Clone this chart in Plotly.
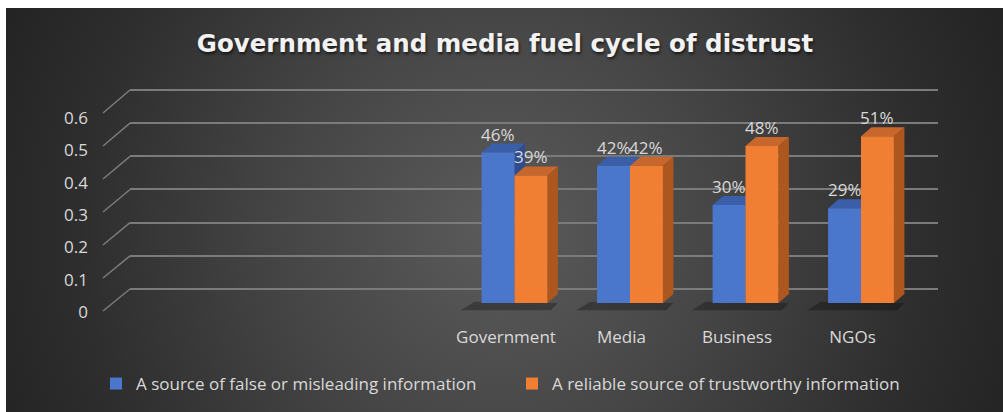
import base64
import plotly.graph_objects as go

# ---- data ----
categories = ["Government", "Media", "Business", "NGOs"]
false_info = [0.46, 0.42, 0.30, 0.29]
reliable_info = [0.39, 0.42, 0.48, 0.51]
series_names = [
    "A source of false or misleading information",
    "A reliable source of trustworthy information",
]
value_ticks = [0, 0.1, 0.2, 0.3, 0.4, 0.5, 0.6]
title_text = "Government and media fuel cycle of distrust"

# ---- canvas geometry (pixels) ----
W, H = 1003, 412
BLUE, ORANGE = "#4a77cc", "#f07f33"
BLUE_TOP, BLUE_SIDE = "#3b5ea8", "#2f4d8c"
ORANGE_TOP, ORANGE_SIDE = "#c8672c", "#ad571f"
TEXT = "#d9d9d9"
FONT = "Open Sans"
GRID = "#7b7b7b"


def fx(p):
    return p / W


def fy(p):
    return 1 - p / H


def y_domain(zero_px, px_per_unit, lo, hi):
    """Domain that puts value 0 at zero_px with the given pixel scale."""
    return [fy(zero_px - lo * px_per_unit), fy(zero_px - hi * px_per_unit)]


# back wall (gridlines), front plane (tick labels), column plane (bars)
WALL_ZERO, WALL_SCALE, WALL_RANGE = 289, 331.7, (-0.02, 0.62)
FRONT_ZERO, FRONT_SCALE, FRONT_RANGE = 312, 323.3, (0.0, 0.62)
BAR_ZERO, BAR_SCALE, BAR_RANGE = 303, 327.0, (-0.04, 0.62)
CAT_STEP = 115.5          # pixels between categories
WALL_X = (130, 938)
FRONT_X = (103, 938)
BAR_X = (130, 938)
FIRST_BAR_PX = 514.5      # centre of first column pair
FIRST_LABEL_PX = 506      # centre of first category label

bar_r0 = -(FIRST_BAR_PX - BAR_X[0]) / CAT_STEP
bar_r1 = bar_r0 + (BAR_X[1] - BAR_X[0]) / CAT_STEP
lab_r0 = -(FIRST_LABEL_PX - FRONT_X[0]) / CAT_STEP
lab_r1 = lab_r0 + (FRONT_X[1] - FRONT_X[0]) / CAT_STEP

BARGAP = 0.43
BAR_W = (1 - BARGAP) / 2
DEPTH_X = 10.5 / CAT_STEP   # column depth, category units
DEPTH_Y = 9.0 / BAR_SCALE   # column depth, value units

fig = go.Figure()

# invisible anchors so the wall and front-plane axes are drawn
fig.add_trace(go.Scatter(x=[0, 1], y=[0, 0], mode="markers", marker=dict(opacity=0),
                         xaxis="x", yaxis="y", hoverinfo="skip", showlegend=False))
fig.add_trace(go.Scatter(x=list(range(len(categories))), y=[0] * len(categories),
                         mode="markers", marker=dict(opacity=0), xaxis="x2", yaxis="y2",
                         hoverinfo="skip", showlegend=False))

# ---- columns ----
for name, vals, col in zip(series_names, [false_info, reliable_info], [BLUE, ORANGE]):
    fig.add_trace(go.Bar(
        x=categories, y=vals, name=name, marker=dict(color=col, line=dict(width=0)),
        xaxis="x3", yaxis="y3", hoverinfo="skip",
    ))

# ---- 3D faces and floor shadow of each column ----
shapes = []
for i, (a, b) in enumerate(zip(false_info, reliable_info)):
    xl = i - BAR_W
    xr = i + BAR_W
    shapes.append(dict(
        type="path", xref="x3", yref="y3", layer="between", line=dict(width=0),
        fillcolor="rgba(0,0,0,0.28)",
        path=(f"M{xl - 0.18},-0.022 L{xr + 0.03},-0.022 L{xr + DEPTH_X},0 "
              f"L{xl - 0.06},0.004 Z"),
    ))
for s, (vals, top, side) in enumerate([(false_info, BLUE_TOP, BLUE_SIDE),
                                       (reliable_info, ORANGE_TOP, ORANGE_SIDE)]):
    for i, v in enumerate(vals):
        xl = i - BAR_W + s * BAR_W
        xr = xl + BAR_W
        shapes.append(dict(
            type="path", xref="x3", yref="y3", layer="between", line=dict(width=0),
            fillcolor=side,
            path=(f"M{xr},0 L{xr + DEPTH_X},{DEPTH_Y} L{xr + DEPTH_X},{v + DEPTH_Y} "
                  f"L{xr},{v} Z"),
        ))
        shapes.append(dict(
            type="path", xref="x3", yref="y3", layer="between", line=dict(width=0),
            fillcolor=top,
            path=(f"M{xl},{v} L{xr},{v} L{xr + DEPTH_X},{v + DEPTH_Y} "
                  f"L{xl + DEPTH_X},{v + DEPTH_Y} Z"),
        ))

# ---- slanted side-wall lines joining front tick marks to back gridlines ----
for v in value_ticks:
    shapes.append(dict(
        type="line", xref="paper", yref="paper",
        x0=fx(FRONT_X[0]), y0=fy(FRONT_ZERO - 1 - v * 330),
        x1=fx(WALL_X[0]), y1=fy(WALL_ZERO - v * WALL_SCALE),
        line=dict(color=GRID, width=1.5),
    ))

# ---- value labels ----
annotations = []
for s, vals in enumerate([false_info, reliable_info]):
    for c, v in zip(categories, vals):
        annotations.append(dict(
            x=c, y=v, xref="x3", yref="y3", text=f"{v:.0%}", showarrow=False,
            xshift=(-1 if s == 0 else 1) * BAR_W / 2 * CAT_STEP, yshift=5,
            yanchor="bottom", font=dict(family=FONT, size=17, color=TEXT),
        ))

# ---- radial background ----
svg = f"""<svg xmlns='http://www.w3.org/2000/svg' width='997' height='404'>
<defs><radialGradient id='g' gradientUnits='userSpaceOnUse' cx='495' cy='222' r='560'>
<stop offset='0' stop-color='#5b5b5b'/><stop offset='0.38' stop-color='#464646'/>
<stop offset='0.75' stop-color='#2e2e2e'/><stop offset='1' stop-color='#222222'/>
</radialGradient></defs><rect width='997' height='404' fill='url(#g)'/></svg>"""
bg_src = "data:image/svg+xml;base64," + base64.b64encode(svg.encode()).decode()

fig.update_layout(
    width=W, height=H, margin=dict(l=0, r=0, t=0, b=0, pad=0, autoexpand=False),
    paper_bgcolor="white", plot_bgcolor="rgba(0,0,0,0)",
    barmode="group", bargap=BARGAP, bargroupgap=0,
    images=[dict(source=bg_src, xref="paper", yref="paper", x=fx(6), y=fy(8),
                 sizex=fx(1003) - fx(6), sizey=fy(8) - fy(412), sizing="stretch",
                 xanchor="left", yanchor="top", layer="below")],
    title=dict(text=title_text, x=fx(505), y=fy(43), xanchor="center", yanchor="middle",
               xref="paper", yref="paper", automargin=False,
               font=dict(family="DejaVu Sans", size=24.5, weight="bold", color="#f2f2f2",
                         shadow="1px 2px 3px rgba(0,0,0,0.65)")),
    # back wall
    xaxis=dict(domain=[fx(WALL_X[0]), fx(WALL_X[1])], range=[0, 1], visible=False,
               fixedrange=True, automargin=False),
    yaxis=dict(domain=y_domain(WALL_ZERO, WALL_SCALE, *WALL_RANGE), range=list(WALL_RANGE),
               tickvals=value_ticks, showgrid=True, gridcolor=GRID, gridwidth=2,
               zeroline=False, showticklabels=False, showline=False, ticks="",
               anchor="x", fixedrange=True, automargin=False),
    # front plane labels
    xaxis2=dict(domain=[fx(FRONT_X[0]), fx(FRONT_X[1])], range=[lab_r0, lab_r1],
                tickvals=list(range(len(categories))), ticktext=categories,
                showgrid=False, zeroline=False, showline=False, ticks="",
                tickfont=dict(family=FONT, size=17, color=TEXT), ticklabelstandoff=13,
                anchor="y2", fixedrange=True, automargin=False),
    yaxis2=dict(domain=y_domain(FRONT_ZERO, FRONT_SCALE, *FRONT_RANGE),
                range=list(FRONT_RANGE), tickvals=value_ticks, showgrid=False,
                zeroline=False, showline=False, ticks="",
                tickfont=dict(family=FONT, size=17, color=TEXT), ticklabelstandoff=14,
                anchor="x2", fixedrange=True, automargin=False),
    # columns
    xaxis3=dict(domain=[fx(BAR_X[0]), fx(BAR_X[1])], type="category",
                categoryorder="array", categoryarray=categories,
                range=[bar_r0, bar_r1], visible=False, anchor="y3", fixedrange=True,
                automargin=False),
    yaxis3=dict(domain=y_domain(BAR_ZERO, BAR_SCALE, *BAR_RANGE), range=list(BAR_RANGE),
                visible=False, anchor="x3", fixedrange=True, automargin=False),
    shapes=shapes,
    annotations=annotations,
    legend=dict(orientation="h", x=fx(96), xanchor="left", y=fy(384), yanchor="middle",
                bgcolor="rgba(0,0,0,0)", font=dict(family=FONT, size=17, color=TEXT),
                entrywidth=371, itemclick=False, itemdoubleclick=False),
    showlegend=True,
)

fig.write_html("out.html")
